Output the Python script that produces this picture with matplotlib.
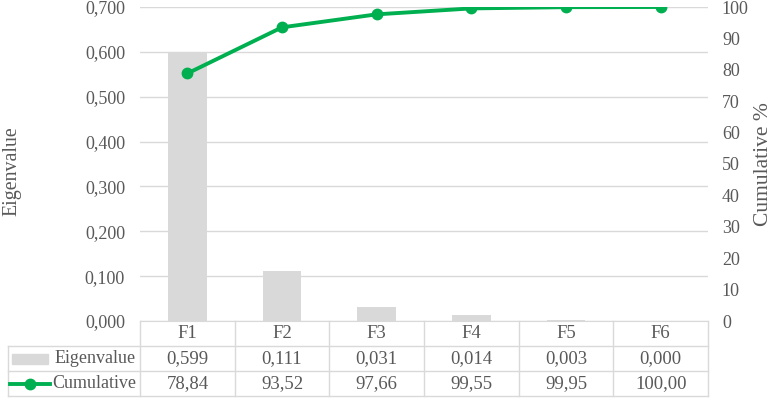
import matplotlib
matplotlib.use("Agg")
import matplotlib.pyplot as plt
from matplotlib.patches import Rectangle
from matplotlib.lines import Line2D

categories = ["F1", "F2", "F3", "F4", "F5", "F6"]
eigenvalues = [0.599, 0.111, 0.031, 0.014, 0.003, 0.000]
cumulative = [78.84, 93.52, 97.66, 99.55, 99.95, 100.00]
left_ticks = [0.0, 0.1, 0.2, 0.3, 0.4, 0.5, 0.6, 0.7]
right_ticks = list(range(0, 101, 10))

GRAY = "#d9d9d9"
TXT = "#595959"
GREEN = "#00b050"
FS = 13
TFS = 13.5

plt.rcParams["font.family"] = ["Liberation Serif", "DejaVu Serif"]

W, H = 774, 400
fig = plt.figure(figsize=(W / 100, H / 100), dpi=100)

def fx(px):
    return px / W

def fy(py):
    return 1 - py / H

x0, x1 = 140, 708
ytop, ybot = 7, 321
ax = fig.add_axes([fx(x0), fy(ybot), fx(x1 - x0), (ybot - ytop) / H])
xs = list(range(len(categories)))
ax.bar(xs, eigenvalues, width=0.41, color=GRAY, zorder=2)
ax.set_xlim(-0.5, len(categories) - 0.5)
ax.set_ylim(0, 0.7)
ax.set_yticks(left_ticks)
ax.set_yticklabels([f"{v:.3f}".replace(".", ",") for v in left_ticks])
ax.set_xticks([])
ax.grid(axis="y", color=GRAY, lw=1, zorder=0)
ax.set_axisbelow(True)
for s in ["top", "right", "left"]:
    ax.spines[s].set_visible(False)
ax.spines["bottom"].set_color(GRAY)
ax.tick_params(axis="y", length=0, pad=10.8, labelsize=FS, labelcolor=TXT)

ax2 = ax.twinx()
ax2.plot(xs, cumulative, color=GREEN, lw=2.8, marker="o", markersize=7.5, zorder=3)
ax2.set_ylim(0, 100)
ax2.set_yticks(right_ticks)
for s in ["top", "right", "left", "bottom"]:
    ax2.spines[s].set_visible(False)
ax2.tick_params(axis="y", length=0, pad=10, labelsize=FS, labelcolor=TXT)

fig.text(fx(12), fy(171), "Eigenvalue", rotation=90, ha="center", va="center",
         fontsize=14.3, color=TXT)
fig.text(fx(764), fy(164), "Cumulative %", rotation=90, ha="center", va="center",
         fontsize=15.5, color=TXT)

# table axes
unit = (x1 - x0) / len(categories)
tl = 8
tax = fig.add_axes([fx(tl), fy(396), fx(x1 - tl), (396 - 321) / H])
xmin = -0.5 - (x0 - tl) / unit
tax.set_xlim(xmin, len(categories) - 0.5)
tax.set_ylim(0, 3)
tax.axis("off")
for yv in [0, 1, 2]:
    tax.plot([xmin, len(categories) - 0.5], [yv, yv], color=GRAY, lw=1, clip_on=False)
for i in range(len(categories) + 1):
    xv = i - 0.5
    tax.plot([xv, xv], [0, 3], color=GRAY, lw=1, clip_on=False)
tax.plot([xmin, xmin], [0, 2], color=GRAY, lw=1, clip_on=False)

for i, c in enumerate(categories):
    tax.text(i, 2.5, c, ha="center", va="center", fontsize=TFS, color=TXT)
    tax.text(i, 1.5, f"{eigenvalues[i]:.3f}".replace(".", ","), ha="center", va="center", fontsize=TFS, color=TXT)
    tax.text(i, 0.5, f"{cumulative[i]:.2f}".replace(".", ","), ha="center", va="center", fontsize=TFS, color=TXT)

# legend keys
k0 = xmin + 4 / unit
k1 = xmin + 40 / unit
tax.add_patch(Rectangle((k0, 1.3), k1 - k0, 0.4, color=GRAY, clip_on=False))
tax.add_line(Line2D([xmin + 2 / unit, xmin + 42 / unit], [0.5, 0.5], color=GREEN, lw=2.8, clip_on=False))
tax.plot([xmin + 22 / unit], [0.5], "o", color=GREEN, markersize=7.5, clip_on=False)
tax.text(-0.5 - 4 / unit, 1.5, "Eigenvalue", ha="right", va="center", fontsize=13, color=TXT)
tax.text(-0.5 - 4 / unit, 0.5, "Cumulative", ha="right", va="center", fontsize=13, color=TXT)

fig.savefig("out.png", dpi=100)
